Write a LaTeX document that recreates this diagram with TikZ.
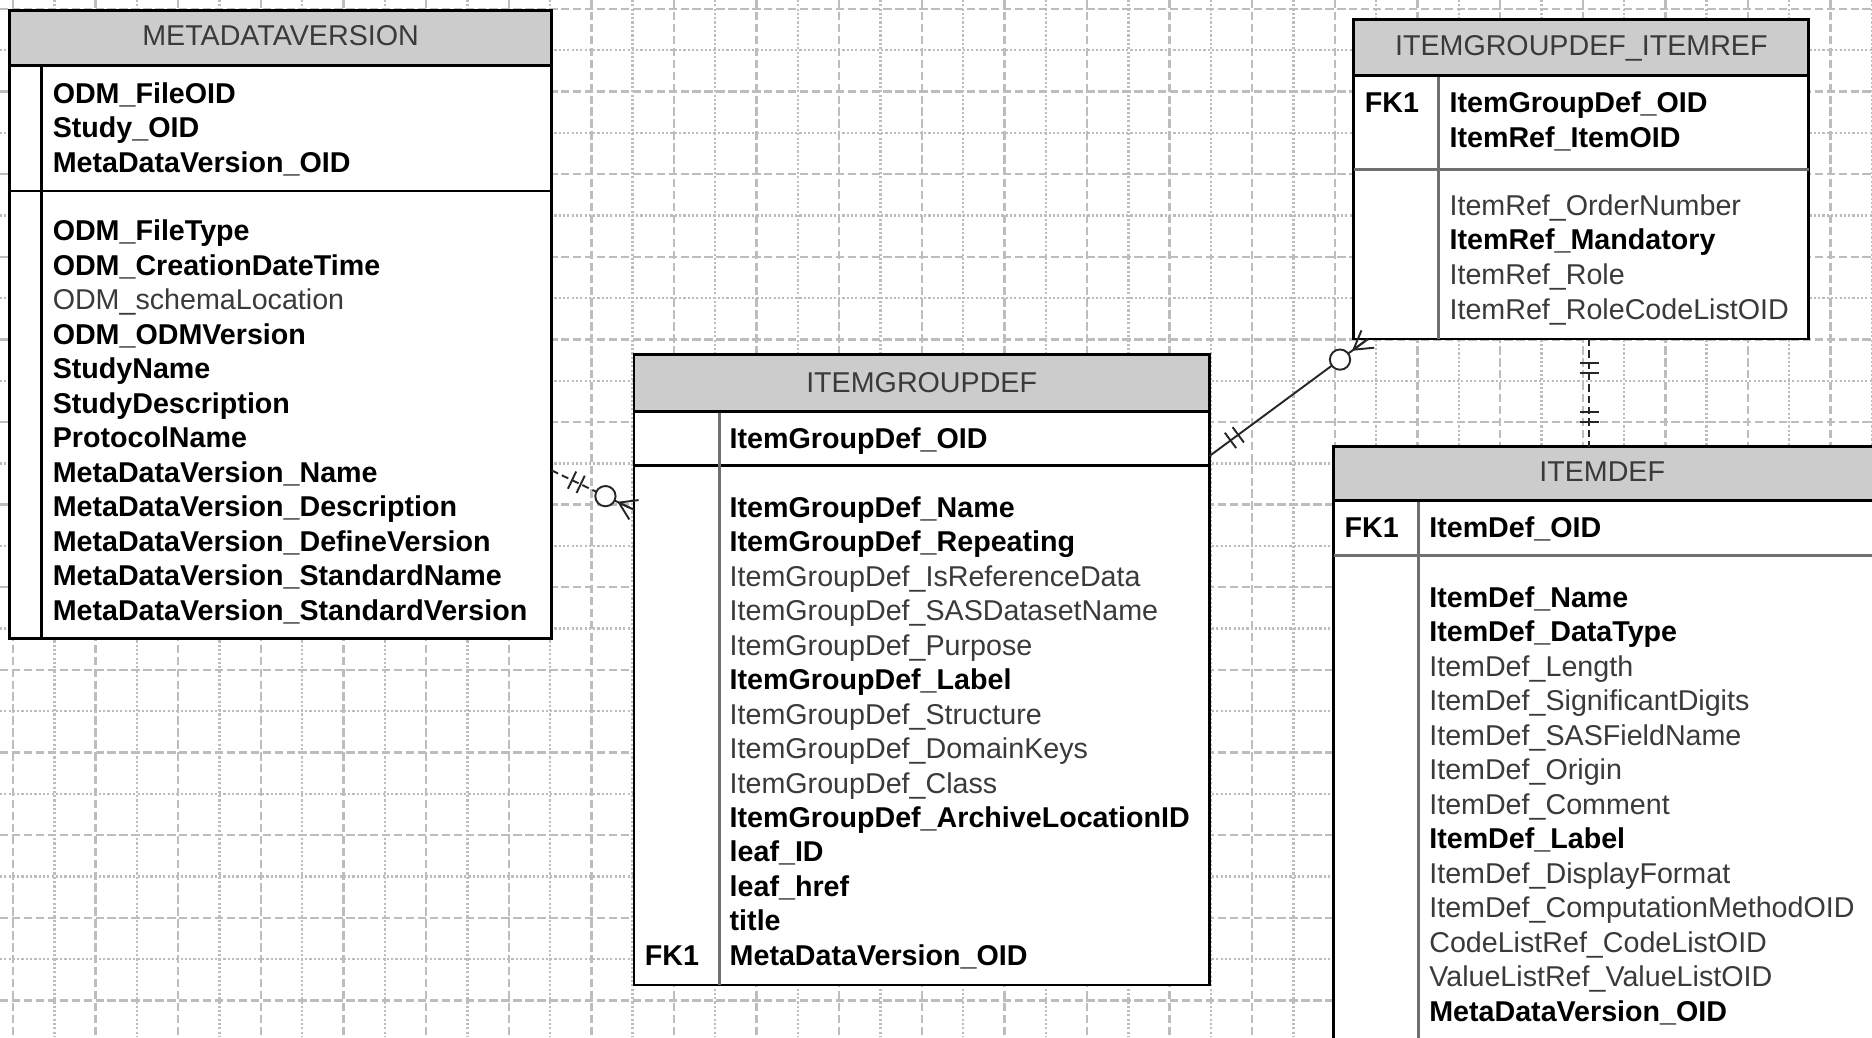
\documentclass[tikz,border=0pt]{standalone}
\usepackage{fontspec}
\setmainfont{Liberation Sans}
\usetikzlibrary{calc}
\definecolor{hdr}{HTML}{CCCCCC}
\definecolor{gridc}{HTML}{BDBDBD}
\definecolor{txtreg}{HTML}{3A3A3A}
\definecolor{divc}{HTML}{707070}
\tikzset{
  gridA/.style={gridc, line width=2pt, dash pattern=on 7pt off 3pt},
  gridB/.style={gridc, line width=2pt, dash pattern=on 1.8pt off 1.8pt},
  tbl/.style={draw=black, line width=2.4pt, fill=white, anchor=north west, inner sep=0pt, outer sep=0pt},
  hdrbox/.style={draw=black, line width=2.4pt, fill=hdr, anchor=north west, inner sep=0pt, outer sep=0pt},
  sepdark/.style={line width=2.4pt, black},
  sepgray/.style={line width=2.4pt, divc},
  fb/.style={anchor=base west, font=\fontsize{24}{28}\selectfont\bfseries, text=black, inner sep=0pt},
  fr/.style={anchor=base west, font=\fontsize{24}{28}\selectfont, text=txtreg, inner sep=0pt},
  ttl/.style={anchor=base, font=\fontsize{24}{28}\selectfont, text=txtreg, inner sep=0pt},
  rel/.style={line width=1.6pt, black!85},
  reld/.style={rel, dash pattern=on 6pt off 3.5pt},
  relmark/.style={line width=1.6pt, black!85},
  relcirc/.style={line width=1.6pt, black!85, fill=white},
}
\begin{document}
\begin{tikzpicture}[x=1pt, y=-1pt]
\useasboundingbox (0,0) rectangle (1568,869);
\clip (0,0) rectangle (1568,869);
\fill[white] (0,0) rectangle (1568,869);
% ---------- background grid ----------
\foreach \k in {0,2,...,24} \draw[gridA] (0,{7.5+34.6*\k}) -- (1568,{7.5+34.6*\k});
\foreach \k in {1,3,...,25} \draw[gridB] (0,{7.5+34.6*\k}) -- (1568,{7.5+34.6*\k});
\foreach \k in {0,2,...,46} \draw[gridA] ({10.9+34.6*\k},0) -- ({10.9+34.6*\k},869);
\foreach \k in {1,3,...,45} \draw[gridB] ({10.9+34.6*\k},0) -- ({10.9+34.6*\k},869);

% ---------- METADATAVERSION ----------
\node[tbl, minimum width=454, minimum height=526] (mdv) at (8,9) {};
\node[hdrbox, minimum width=454, minimum height=46] (mdvh) at (8,9) {};
\draw[sepdark] (8,160) -- (462,160);
\draw[sepdark] (35,55) -- (35,535);
\node[ttl] (mdvt) at (235,38.5) {METADATAVERSION};
\foreach \t [count=\i from 0] in {ODM\_FileOID,Study\_OID,MetaDataVersion\_OID}
  \node[fb] (mdvpk\i) at (44,{86.5+28.9*\i}) {\t};
\foreach \t/\s [count=\i from 0] in {ODM\_FileType/fb,ODM\_CreationDateTime/fb,ODM\_schemaLocation/fr,ODM\_ODMVersion/fb,StudyName/fb,StudyDescription/fb,ProtocolName/fb,MetaDataVersion\_Name/fb,MetaDataVersion\_Description/fb,MetaDataVersion\_DefineVersion/fb,MetaDataVersion\_StandardName/fb,MetaDataVersion\_StandardVersion/fb}
  \node[\s] (mdvr\i) at (44,{201.5+28.9*\i}) {\t};

% ---------- ITEMGROUPDEF ----------
\node[tbl, minimum width=482, minimum height=528] (igd) at (531,297) {};
\node[hdrbox, minimum width=482, minimum height=48] (igdh) at (531,297) {};
\draw[sepdark] (531,390) -- (1013,390);
\draw[sepgray] (603,345) -- (603,825);
\draw[sepdark] (531,345) -- (1013,345);
\node[ttl] (igdt) at (772,328.5) {ITEMGROUPDEF};
\node[fb] (igdpk) at (611,375.5) {ItemGroupDef\_OID};
\foreach \t/\s [count=\i from 0] in {ItemGroupDef\_Name/fb,ItemGroupDef\_Repeating/fb,ItemGroupDef\_IsReferenceData/fr,ItemGroupDef\_SASDatasetName/fr,ItemGroupDef\_Purpose/fr,ItemGroupDef\_Label/fb,ItemGroupDef\_Structure/fr,ItemGroupDef\_DomainKeys/fr,ItemGroupDef\_Class/fr,ItemGroupDef\_ArchiveLocationID/fb,leaf\_ID/fb,leaf\_href/fb,title/fb,MetaDataVersion\_OID/fb}
  \node[\s] (igdr\i) at (611,{433.5+28.85*\i}) {\t};
\node[fb] (igdfk) at (540,{433.5+28.85*13}) {FK1};

% ---------- ITEMGROUPDEF_ITEMREF ----------
\node[tbl, minimum width=381, minimum height=268] (irf) at (1134,16) {};
\node[hdrbox, minimum width=381, minimum height=47] (irfh) at (1134,16) {};
\draw[sepgray] (1134,142) -- (1515,142);
\draw[sepgray] (1205,63) -- (1205,284);
\draw[sepdark] (1134,63) -- (1515,63);
\node[ttl] (irft) at (1324.5,46.5) {ITEMGROUPDEF\_ITEMREF};
\node[fb] (irffk) at (1143,94.5) {FK1};
\node[fb] (irfpk0) at (1214,94.5) {ItemGroupDef\_OID};
\node[fb] (irfpk1) at (1214,123.4) {ItemRef\_ItemOID};
\foreach \t/\s [count=\i from 0] in {ItemRef\_OrderNumber/fr,ItemRef\_Mandatory/fb,ItemRef\_Role/fr,ItemRef\_RoleCodeListOID/fr}
  \node[\s] (irfr\i) at (1214,{180.5+28.9*\i}) {\t};

% ---------- ITEMDEF ----------
\node[tbl, minimum width=455, minimum height=530] (itd) at (1117,374) {};
\node[hdrbox, minimum width=455, minimum height=45] (itdh) at (1117,374) {};
\draw[sepgray] (1117,465) -- (1572,465);
\draw[sepgray] (1188,419) -- (1188,905);
\draw[sepdark] (1117,419) -- (1572,419);
\node[ttl] (itdt) at (1342,403.5) {ITEMDEF};
\node[fb] (itdfk) at (1126,450.5) {FK1};
\node[fb] (itdpk) at (1197,450.5) {ItemDef\_OID};
\foreach \t/\s [count=\i from 0] in {ItemDef\_Name/fb,ItemDef\_DataType/fb,ItemDef\_Length/fr,ItemDef\_SignificantDigits/fr,ItemDef\_SASFieldName/fr,ItemDef\_Origin/fr,ItemDef\_Comment/fr,ItemDef\_Label/fb,ItemDef\_DisplayFormat/fr,ItemDef\_ComputationMethodOID/fr,CodeListRef\_CodeListOID/fr,ValueListRef\_ValueListOID/fr,MetaDataVersion\_OID/fb}
  \node[\s] (itdr\i) at (1197,{508.5+28.9*\i}) {\t};

% ---------- relationship 1: METADATAVERSION -> ITEMGROUPDEF (dashed, one to zero-or-many) ----------
\coordinate (r1s) at (mdv.east |- 0,394);
\coordinate (r1e) at (igd.west |- 0,427);
\draw[reld] (r1s) -- (r1e);
\foreach \t in {19,27}
  \draw[relmark] ($(r1s)!\t pt!(r1e)$) -- ($($(r1s)!\t pt!(r1e)$)!8pt!90:(r1e)$)
                 ($(r1s)!\t pt!(r1e)$) -- ($($(r1s)!\t pt!(r1e)$)!8pt!-90:(r1e)$);
\coordinate (r1q) at ($(r1e)!14pt!(r1s)$);
\draw[relmark] (r1q) -- (r1e)
               (r1q) -- ($(r1e)!9pt!90:(r1s)$)
               (r1q) -- ($(r1e)!9pt!-90:(r1s)$);
\draw[relcirc] ($(r1s)!50pt!(r1e)$) circle (8.5pt);

% ---------- relationship 2: ITEMGROUPDEF -> ITEMGROUPDEF_ITEMREF (solid, one to zero-or-many) ----------
\coordinate (r2s) at (igd.east |- 0,382);
\coordinate (r2e) at (1145.7,284);
\draw[rel] (r2s) -- (r2e);
\foreach \t in {22,30}
  \draw[relmark] ($(r2s)!\t pt!(r2e)$) -- ($($(r2s)!\t pt!(r2e)$)!8pt!90:(r2e)$)
                 ($(r2s)!\t pt!(r2e)$) -- ($($(r2s)!\t pt!(r2e)$)!8pt!-90:(r2e)$);
\coordinate (r2q) at ($(r2e)!15pt!(r2s)$);
\draw[relmark] (r2q) -- (r2e)
               (r2q) -- ($(r2e)!9pt!90:(r2s)$)
               (r2q) -- ($(r2e)!9pt!-90:(r2s)$);
\draw[relcirc] ($(r2s)!136pt!(r2e)$) circle (8.5pt);

% ---------- relationship 3: ITEMGROUPDEF_ITEMREF -> ITEMDEF (dashed, one to one) ----------
\coordinate (r3s) at (irf.south -| 1331,0);
\coordinate (r3e) at (itd.north -| 1331,0);
\draw[reld] (r3s) -- (r3e);
\foreach \y in {304.3,312.7,344.8,353.2}
  \draw[relmark] (1323,\y) -- (1339,\y);
\end{tikzpicture}
\end{document}
